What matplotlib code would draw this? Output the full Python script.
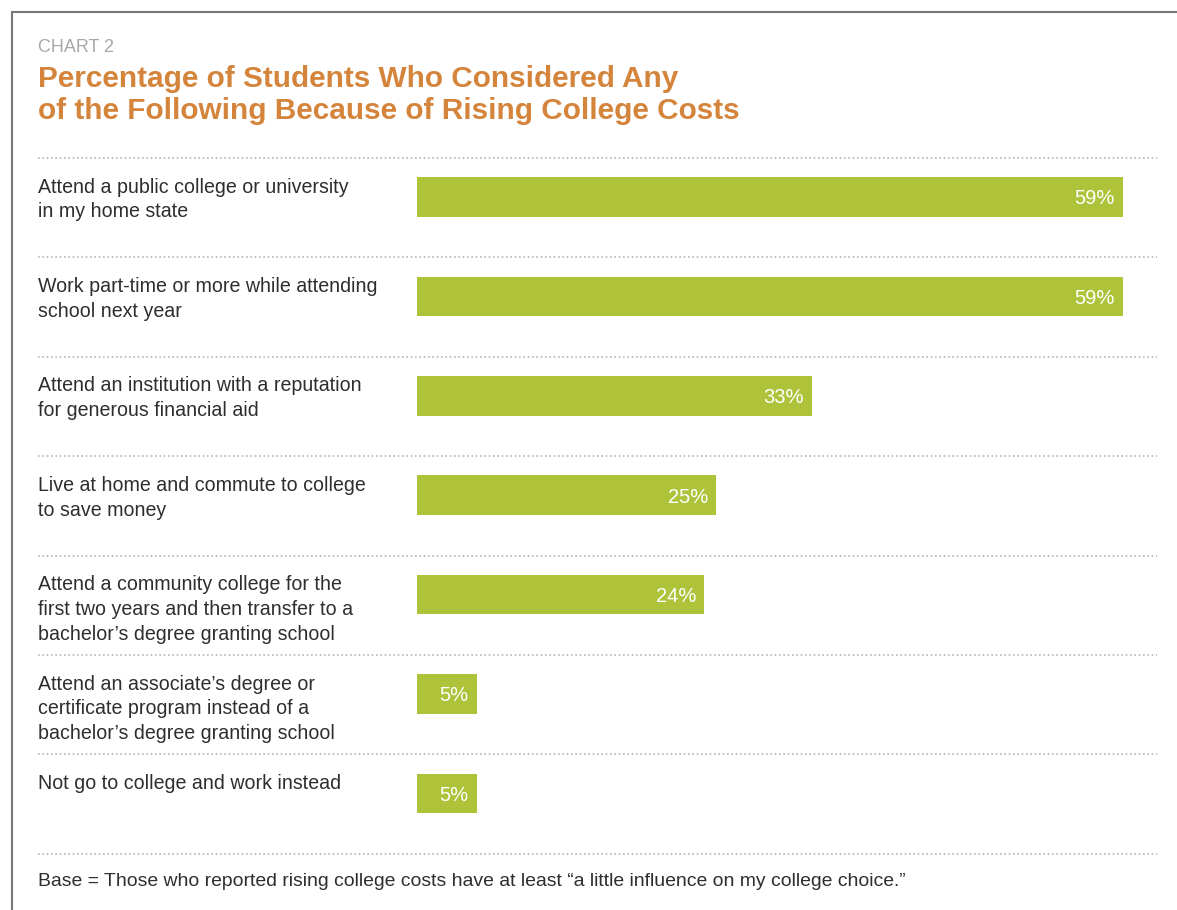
import matplotlib
matplotlib.use("Agg")
import matplotlib.pyplot as plt
from matplotlib.lines import Line2D

categories = [
    "Attend a public college or university\nin my home state",
    "Work part-time or more while attending\nschool next year",
    "Attend an institution with a reputation\nfor generous financial aid",
    "Live at home and commute to college\nto save money",
    "Attend a community college for the\nfirst two years and then transfer to a\nbachelor\u2019s degree granting school",
    "Attend an associate\u2019s degree or\ncertificate program instead of a\nbachelor\u2019s degree granting school",
    "Not go to college and work instead",
]
values = [59, 59, 33, 25, 24, 5, 5]
value_labels = ["59%", "59%", "33%", "25%", "24%", "5%", "5%"]

chart_label = "CHART 2"
title = "Percentage of Students Who Considered Any\nof the Following Because of Rising College Costs"
footnote = "Base = Those who reported rising college costs have at least \u201ca little influence on my college choice.\u201d"

W, H = 1177, 910
plt.rcParams['font.family'] = ['Liberation Sans', 'DejaVu Sans']
fig = plt.figure(figsize=(W / 100, H / 100), dpi=100)
fig.patch.set_facecolor("white")

# geometry in pixels
ax_left_px, ax_right_px = 38, 1157
ax_top_px, ax_bot_px = 150, 870
zero_px = 417
px_per_unit = 11.97
row0_px = 197
row_step = 99.4

ax = fig.add_axes([ax_left_px / W, 1 - ax_bot_px / H,
                   (ax_right_px - ax_left_px) / W, (ax_bot_px - ax_top_px) / H])
ax.set_xlim(-(zero_px - ax_left_px) / px_per_unit, (ax_right_px - zero_px) / px_per_unit)
ax.set_ylim((ax_bot_px - row0_px) / row_step, (ax_top_px - row0_px) / row_step)
ax.axis("off")

bar_color = "#AEC23A"
n = len(values)
ys = list(range(n))
ax.barh(ys, values, height=0.40, color=bar_color, edgecolor="none")

sep_off = 39 / row_step
for i in range(n + 1):
    ax.axhline(i - sep_off, color="#b5b5b5", lw=1.2, linestyle=(0, (1, 1.6)))

xmin = ax.get_xlim()[0]
for y, cat, v, lab in zip(ys, categories, values, value_labels):
    ax.text(xmin, y - 0.195, cat, ha="left", va="top", fontsize=14.1,
            color="#2e2e2e", linespacing=1.38)
    ax.text(v - 0.7, y + 0.02, lab, ha="right", va="center", fontsize=14.5,
            color="white")

fig.text(38 / W, 1 - 47 / H, chart_label, ha="left", va="center", fontsize=13,
         color="#a8a8a8")
fig.text(38 / W, 1 - 95 / H, title, ha="left", va="center", fontsize=21.4,
         fontweight="bold", color="#D4843B", linespacing=1.16)
fig.text(38 / W, 1 - 882 / H, footnote, ha="left", va="center", fontsize=13.95,
         color="#2e2e2e")

# frame
fig.add_artist(Line2D([12 / W, 1], [1 - 12 / H, 1 - 12 / H], transform=fig.transFigure,
                      color="#777777", lw=1.5))
fig.add_artist(Line2D([12 / W, 12 / W], [1 - 12 / H, 0], transform=fig.transFigure,
                      color="#777777", lw=1.5))

fig.savefig("out.png", dpi=100)
